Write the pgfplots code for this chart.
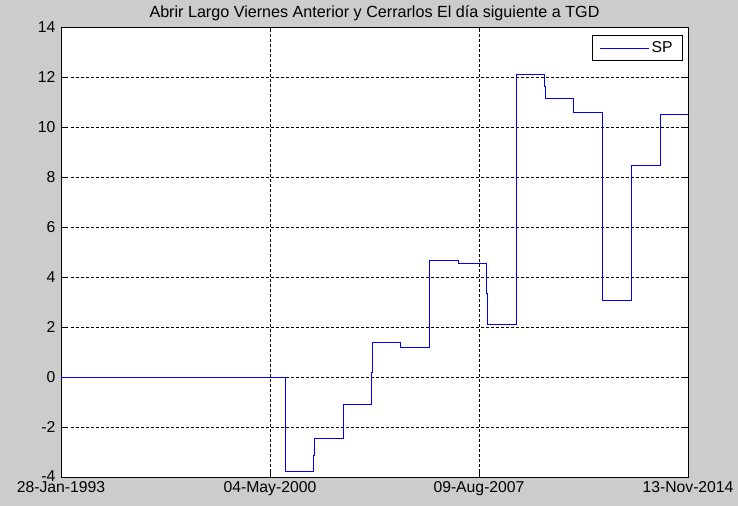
\documentclass[border=0pt]{standalone}
\usepackage{fontspec}
\setmainfont{Liberation Sans}
\usepackage{pgfplots}
\pgfplotsset{compat=1.18}
\definecolor{figbg}{RGB}{204,204,204}
\definecolor{spblue}{RGB}{0,0,255}
\begin{document}
\fontsize{16}{18}\selectfont
\begin{tikzpicture}[x=1bp,y=1bp]
\fill[figbg] (-61,-29) rectangle (677,477);
\useasboundingbox (-61,-29) rectangle (677,477);
\begin{axis}[
  at={(0,0)}, anchor=south west,
  scale only axis, width=627bp, height=450bp,
  xmin=0, xmax=627, ymin=-4, ymax=14,
  axis background/.style={fill=white},
  xtick={0,209,418,627},
  xticklabels={28-Jan-1993,04-May-2000,09-Aug-2007,13-Nov-2014},
  ytick={-4,-2,...,14},
  yticklabels={\raisebox{2.5bp}{-4},-2,0,2,4,6,8,10,12,14},
  tick label style={font=\fontsize{15.8}{18}\selectfont},
  tick align=inside, tick pos=both,
  major tick length=5bp,
  tick style={black, line width=0.6pt},
  axis line style={black, line width=0.8pt},
  grid=major,
  major grid style={black, line width=0.5pt, dash pattern=on 2.5bp off 2.5bp},
  xticklabel style={yshift=-3bp, inner ysep=1bp},
  yticklabel style={inner ysep=0bp},
  title={Abrir Largo Viernes Anterior y Cerrarlos El día siguiente a TGD},
  title style={font=\fontsize{16.2}{18}\selectfont, yshift=-5bp},
  legend style={at={(1,1)}, anchor=north east, xshift=-5bp, yshift=-8bp,
    draw=black, line width=0.6pt, font=\fontsize{15.8}{18}\selectfont,
    inner xsep=8bp, inner ysep=4bp},
  legend cell align=left,
  legend image code/.code={\draw[spblue, line width=0.6pt] (0bp,0bp) -- (49bp,0bp);},
]
\addplot[const plot, color=spblue, line width=0.6pt] coordinates {
(0,0) (224.3,-3.77) (252,-3.12) (253,-2.45) (282.3,-1.09) (310.3,0.19) (311.3,1.39)
(339.3,1.19) (368.5,4.67) (397.7,4.56) (425.7,3.33) (426.7,2.11) (455.3,12.11)
(483.3,11.61) (484.3,11.15) (512.3,10.59) (541.3,3.08) (570.3,8.47) (599.3,10.52) (627,10.52)
};
\addlegendentry{SP}
\end{axis}
\end{tikzpicture}
\end{document}
